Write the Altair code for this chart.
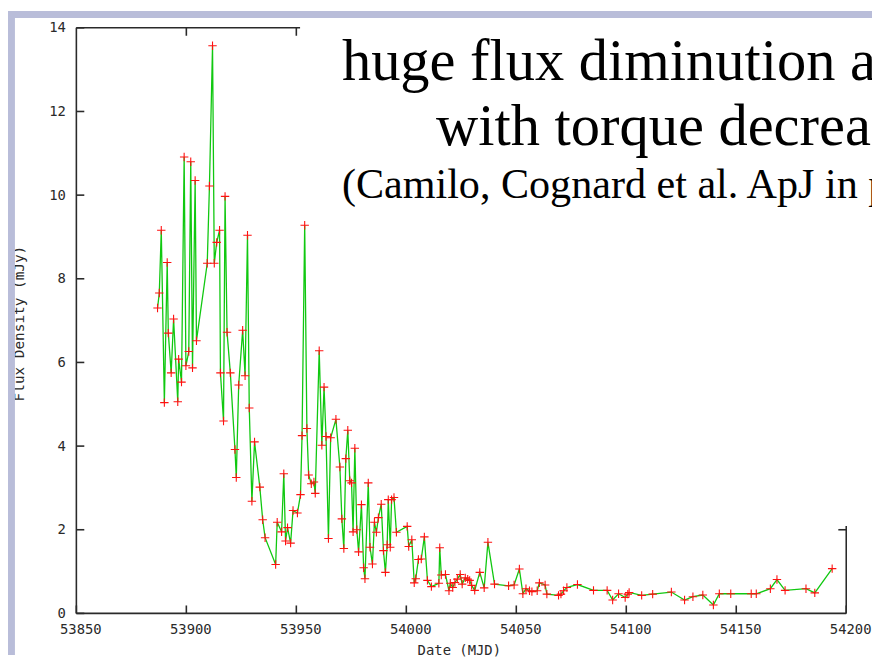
import altair as alt
import pandas as pd

# ---- data (MJD, flux density in mJy) ----
mjd = [53886.9, 53887.7, 53888.6, 53890.0, 53891.3, 53891.8, 53893.1, 53894.2, 53896.1, 53896.5,
       53897.8, 53899.0, 53899.8, 53901.1, 53902.0, 53902.8, 53904.0, 53904.6, 53909.5, 53910.5,
       53911.9, 53912.7, 53913.8, 53915.1, 53915.5, 53916.9, 53917.6, 53918.5, 53920.0, 53922.1,
       53922.7, 53923.8, 53925.6, 53926.7, 53927.8, 53928.6, 53929.8, 53931.0, 53933.4, 53934.7,
       53935.8, 53940.6, 53941.3, 53943.3, 53944.3, 53945.1, 53946.0, 53947.4, 53948.5, 53950.5,
       53951.9, 53952.6, 53953.8, 53954.8, 53955.6, 53956.8, 53958.0, 53958.6, 53960.4, 53961.6,
       53962.6, 53963.5, 53964.6, 53965.6, 53968.0, 53969.8, 53970.7, 53971.6, 53972.5, 53973.4,
       53974.3, 53975.1, 53975.8, 53976.6, 53977.5, 53978.3, 53979.6, 53980.6, 53981.2, 53982.7,
       53983.5, 53984.6, 53985.5, 53986.4, 53987.3, 53988.6, 53989.6, 53990.5, 53991.3, 53991.8,
       53992.7, 53993.3, 53994.4, 53995.5, 54000.4, 54001.1, 54002.5, 54003.6, 54004.3, 54005.5,
       54006.8, 54008.2, 54009.6, 54011.4, 54014.8, 54015.2, 54015.9, 54017.8, 54019.4, 54020.0,
       54021.1, 54022.1, 54023.2, 54024.5, 54025.4, 54026.8, 54027.9, 54028.8, 54029.7, 54031.1,
       54033.4, 54035.4, 54037.1, 54040.1, 54046.5, 54049.0, 54051.4, 54053.0, 54054.4, 54056.0,
       54057.1, 54059.5, 54060.5, 54063.1, 54063.9, 54069.2, 54070.3, 54071.5, 54073.0, 54077.8,
       54085.1, 54091.3, 54093.8, 54096.5, 54099.5, 54100.7, 54101.3, 54107.0, 54112.0, 54120.5,
       54126.5, 54130.3, 54134.8, 54139.6, 54142.3, 54147.5, 54156.8, 54159.1, 54165.5, 54168.5,
       54172.2, 54181.7, 54185.7, 54193.6]

flux = [7.30, 7.66, 9.16, 5.04, 8.39, 6.70, 5.75, 7.04, 5.06, 6.08,
        5.53, 10.91, 5.92, 6.26, 10.80, 5.87, 10.35, 6.52, 8.37, 10.22,
        13.57, 8.37, 8.87, 9.16, 5.75, 4.60, 9.97, 6.72, 5.75, 3.92,
        3.25, 5.46, 6.77, 5.68, 9.04, 4.91, 2.68, 4.10, 3.02, 2.24,
        1.81, 1.17, 2.18, 1.95, 3.34, 1.73, 2.05, 1.68, 2.46, 2.40,
        2.84, 4.25, 9.28, 4.42, 3.31, 3.10, 3.14, 2.87, 6.28, 4.02,
        5.41, 4.23, 1.79, 4.20, 4.64, 3.50, 2.26, 1.55, 3.70, 4.38,
        3.17, 3.12, 1.95, 3.95, 2.00, 1.47, 2.60, 1.09, 0.83, 3.12,
        1.58, 1.18, 2.18, 1.94, 2.29, 2.61, 1.50, 0.98, 1.64, 2.72,
        1.58, 2.72, 2.77, 1.94, 2.08, 1.60, 1.76, 0.73, 0.83, 1.29,
        1.30, 1.83, 0.79, 0.64, 0.72, 1.57, 0.92, 0.93, 0.54, 0.72,
        0.62, 0.74, 0.82, 0.93, 0.70, 0.85, 0.82, 0.79, 0.67, 0.55,
        0.98, 0.61, 1.70, 0.70, 0.66, 0.68, 1.06, 0.47, 0.59, 0.54,
        0.52, 0.54, 0.73, 0.68, 0.46, 0.43, 0.46, 0.54, 0.62, 0.69,
        0.55, 0.55, 0.32, 0.47, 0.38, 0.46, 0.50, 0.43, 0.46, 0.51,
        0.32, 0.40, 0.44, 0.20, 0.47, 0.47, 0.47, 0.47, 0.59, 0.81,
        0.55, 0.59, 0.49, 1.07]

x_ticks = [53850, 53900, 53950, 54000, 54050, 54100, 54150, 54200]
y_ticks = [0, 2, 4, 6, 8, 10, 12, 14]
top_ticks = [53900, 53950]
right_ticks = [2]

# frame pieces visible in the reference (x, x2, y, y2 in data units)
frame_x = [53850, 53850, 53850, 54200]
frame_x2 = [54200, 53850, 53951.7, 54200]
frame_y = [0, 0, 14, 0]
frame_y2 = [0, 14, 14, 2.09]

title_lines = ["huge flux diminution associated", "with torque decrease",
               "(Camilo, Cognard et al. ApJ in press)"]

# ---- chart ----
W, H = 777, 591
MONO = "DejaVu Sans Mono"
AX = "#2a2a2a"

df = pd.DataFrame({"mjd": mjd, "flux": flux})
xs = alt.Scale(domain=[53850, 54200], nice=False, zero=False)
ys = alt.Scale(domain=[0, 14], nice=False, zero=True)

x_axis = alt.Axis(values=x_ticks, format="d", domain=False, ticks=False, tickSize=0, grid=False,
                  labelFont=MONO, labelFontSize=14, labelColor=AX, labelPadding=9, labelOffset=4,
                  labelFlush=False, labelOverlap=False,
                  title="Date (MJD)", titleFont=MONO, titleFontSize=14, titleFontWeight="normal",
                  titleColor=AX, titleX=386, titleY=37, titleBaseline="middle", titleAlign="center")
y_axis = alt.Axis(values=y_ticks, format="d", domain=False, ticks=False, tickSize=0, grid=False,
                  labelFont=MONO, labelFontSize=14, labelColor=AX, labelPadding=11,
                  labelFlush=False, labelOverlap=False,
                  title="Flux Density (mJy)", titleFont=MONO, titleFontSize=14.5, titleFontWeight="normal",
                  titleColor=AX, titleX=-57, titleY=298, titleAngle=270,
                  titleBaseline="middle", titleAlign="center")

X = lambda f: alt.X(f, scale=xs, axis=x_axis)
Y = lambda f: alt.Y(f, scale=ys, axis=y_axis)

line = alt.Chart(df).mark_line(color="#10c810", strokeWidth=1.3).encode(
    x=X("mjd:Q"), y=Y("flux:Q"))
pts = alt.Chart(df).mark_point(shape="M-1,0L1,0M0,-1L0,1", size=72, filled=False,
                               stroke="#ff1010", strokeWidth=1.1, opacity=1).encode(
    x=X("mjd:Q"), y=Y("flux:Q"))

frame_df = pd.DataFrame({"mjd": frame_x, "x2": frame_x2, "flux": frame_y, "y2": frame_y2})
frame = alt.Chart(frame_df).mark_rule(color=AX, strokeWidth=1.6).encode(
    x=X("mjd:Q"), x2="x2:Q", y=Y("flux:Q"), y2="y2:Q")

bt = alt.Chart(pd.DataFrame({"mjd": x_ticks})).mark_rule(color=AX, strokeWidth=1.6).encode(
    x=X("mjd:Q"), y=alt.value(H), y2=alt.value(H - 8))
tt = alt.Chart(pd.DataFrame({"mjd": top_ticks})).mark_rule(color=AX, strokeWidth=1.6).encode(
    x=X("mjd:Q"), y=alt.value(0), y2=alt.value(8))
lt = alt.Chart(pd.DataFrame({"flux": y_ticks})).mark_rule(color=AX, strokeWidth=1.6).encode(
    y=Y("flux:Q"), x=alt.value(0), x2=alt.value(8))
rt = alt.Chart(pd.DataFrame({"flux": right_ticks})).mark_rule(color=AX, strokeWidth=1.6).encode(
    y=Y("flux:Q"), x=alt.value(W), x2=alt.value(W - 8))

# slide border (light blue-grey)
BORDER = "#b9bdd9"
one = pd.DataFrame({"k": [0]})
border_left = alt.Chart(one).mark_rect(color=BORDER).encode(
    x=alt.value(-69), x2=alt.value(-62), y=alt.value(-17), y2=alt.value(H + 42))
border_top = alt.Chart(one).mark_rect(color=BORDER).encode(
    x=alt.value(-69), x2=alt.value(W + 26), y=alt.value(-17), y2=alt.value(-10))

t1 = alt.Chart(pd.DataFrame({"t": [title_lines[0]]})).mark_text(
    font="Liberation Serif", fontSize=59, align="left", baseline="alphabetic", color="black"
).encode(text="t:N", x=alt.value(268), y=alt.value(53))
t2 = alt.Chart(pd.DataFrame({"t": [title_lines[1]]})).mark_text(
    font="Liberation Serif", fontSize=59, align="left", baseline="alphabetic", color="black"
).encode(text="t:N", x=alt.value(363), y=alt.value(118))
t3 = alt.Chart(pd.DataFrame({"t": [title_lines[2]]})).mark_text(
    font="Liberation Serif", fontSize=42.5, align="left", baseline="alphabetic", color="black"
).encode(text="t:N", x=alt.value(268), y=alt.value(172))

chart = alt.layer(
    line, border_left, border_top, frame, bt, tt, lt, rt, pts, t1, t2, t3
).properties(
    width=W, height=H,
    autosize=alt.AutoSizeParams(type="none"),
    padding={"left": 69, "top": 17, "right": 26, "bottom": 42},
).configure(background="white").configure_view(stroke=None)

chart.save("out.html", embed_options={"renderer": "svg", "actions": False})
